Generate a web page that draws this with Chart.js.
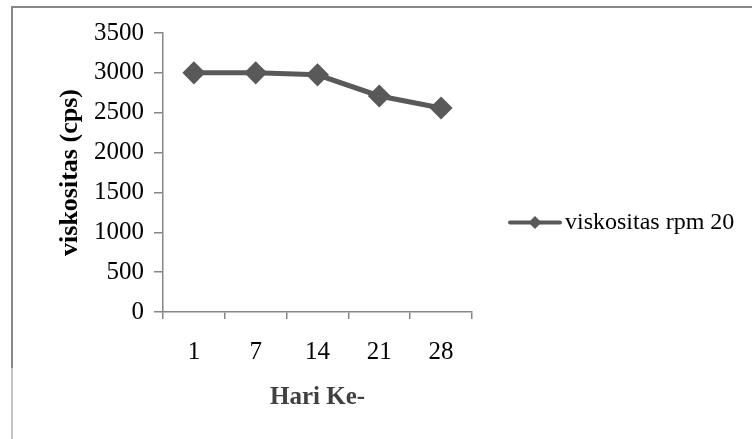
<!DOCTYPE html>
<html>
<head>
<meta charset="utf-8">
<script src="https://cdn.jsdelivr.net/npm/chart.js@4/dist/chart.umd.min.js"></script>
<style>
  html, body { margin: 0; padding: 0; background: #fff; }
  #wrap { width: 753px; height: 439px; position: relative; }
</style>
</head>
<body>
<div id="wrap"><canvas id="c" width="753" height="439"></canvas></div>
<script>
// data
var hariLabels = ['1', '7', '14', '21', '28'];
var viskositasRpm20 = [3000, 3000, 2975, 2710, 2560];
var yTicks = [0, 500, 1000, 1500, 2000, 2500, 3000, 3500];

var SERIF = '"Liberation Serif", "DejaVu Serif", serif';
var LINE_COL = '#595959';
var AXIS_COL = '#868686';

// outer frame of the figure (only top and left edges are visible)
var framePlugin = {
  id: 'frame',
  beforeDraw: function (chart) {
    var ctx = chart.ctx;
    ctx.save();
    ctx.fillStyle = '#fff';
    ctx.fillRect(0, 0, chart.width, chart.height);
    ctx.lineWidth = 2;
    ctx.strokeStyle = '#888888';
    ctx.beginPath();
    ctx.moveTo(12, 368); ctx.lineTo(12, 7); ctx.lineTo(752, 7);
    ctx.stroke();
    ctx.strokeStyle = '#c4c4c4';
    ctx.beginPath(); ctx.moveTo(12, 368); ctx.lineTo(12, 439); ctx.stroke();
    ctx.restore();
  }
};

// excel style legend: line + diamond, then the series name
var legendPlugin = {
  id: 'xlLegend',
  afterDraw: function (chart) {
    var ctx = chart.ctx;
    var ds = chart.data.datasets[0];
    var x0 = chart.chartArea.right + 38;
    var y = chart.height / 2 + 3;
    ctx.save();
    ctx.strokeStyle = LINE_COL;
    ctx.lineWidth = 4;
    ctx.lineCap = 'round';
    ctx.beginPath(); ctx.moveTo(x0, y); ctx.lineTo(x0 + 50, y); ctx.stroke();
    ctx.fillStyle = LINE_COL;
    ctx.beginPath();
    ctx.moveTo(x0 + 25, y - 6.5); ctx.lineTo(x0 + 31.5, y); ctx.lineTo(x0 + 25, y + 6.5); ctx.lineTo(x0 + 18.5, y);
    ctx.closePath(); ctx.fill();
    ctx.fillStyle = '#000';
    ctx.font = '24px ' + SERIF;
    ctx.textBaseline = 'middle';
    ctx.fillText(ds.label, x0 + 55, y);
    ctx.restore();
  }
};

new Chart(document.getElementById('c').getContext('2d'), {
  type: 'line',
  data: {
    labels: hariLabels,
    datasets: [{
      label: 'viskositas rpm 20',
      data: viskositasRpm20,
      borderColor: LINE_COL,
      backgroundColor: LINE_COL,
      borderWidth: 5,
      pointStyle: 'rectRot',
      pointRadius: 8,
      pointHoverRadius: 8,
      tension: 0,
      fill: false
    }]
  },
  options: {
    responsive: false,
    animation: false,
    layout: { padding: { top: 33, left: 43, right: 281, bottom: 26 } },
    plugins: {
      tooltip: { enabled: false },
      legend: { display: false }
    },
    scales: {
      x: {
        offset: true,
        afterFit: function (s) { s.height = 101; },
        grid: { offset: true, drawOnChartArea: false, color: AXIS_COL, tickLength: 7, lineWidth: 1.5 },
        border: { color: AXIS_COL, width: 1.5 },
        ticks: { color: '#000', padding: 18, font: { family: SERIF, size: 25 } },
        title: { display: true, text: 'Hari Ke-', color: '#404040', padding: { top: 0, bottom: 0 }, font: { family: SERIF, size: 25, weight: 'bold' } }
      },
      y: {
        min: 0, max: 3500,
        afterFit: function (s) { s.width = 120; },
        afterBuildTicks: function (axis) { axis.ticks = yTicks.map(function (v) { return { value: v }; }); },
        grid: { drawOnChartArea: false, color: AXIS_COL, tickLength: 9, lineWidth: 1.5 },
        border: { color: AXIS_COL, width: 1.5 },
        ticks: { color: '#000', padding: 10, font: { family: SERIF, size: 25 }, callback: function (v) { return String(v); } },
        title: { display: true, text: 'viskositas (cps)', color: '#000', padding: { top: 12, bottom: 4 }, font: { family: SERIF, size: 26, weight: 'bold' } }
      }
    }
  },
  plugins: [framePlugin, legendPlugin]
});
</script>
</body>
</html>
